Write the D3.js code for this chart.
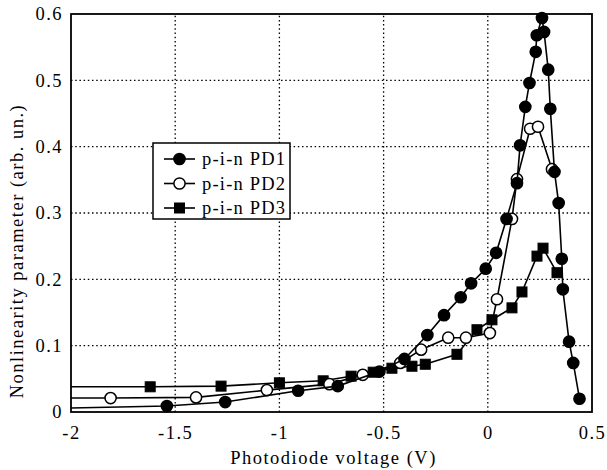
<!DOCTYPE html>
<html>
<head>
<meta charset="utf-8">
<script src="https://cdn.jsdelivr.net/npm/d3@7"></script>
<style>
  html, body { margin: 0; padding: 0; background: #fff; }
  svg text { font-family: "Liberation Serif", "Times New Roman", serif; fill: #000; }
</style>
</head>
<body>
<svg id="chart" width="607" height="470"></svg>
<script>
// Photodiode voltage (V) and nonlinearity parameter for three p-i-n photodiodes.
// The first entry of each series sits on the left frame edge (line only, no marker).
const pd1X = [-2, -1.54, -1.26, -0.91, -0.72, -0.52, -0.40, -0.29, -0.21, -0.13, -0.08, -0.01, 0.04, 0.09, 0.14, 0.155, 0.18, 0.20, 0.23, 0.235, 0.26, 0.27, 0.29, 0.30, 0.32, 0.34, 0.355, 0.36, 0.39, 0.41, 0.44];
const pd1Y = [0.006, 0.009, 0.015, 0.032, 0.039, 0.061, 0.080, 0.116, 0.146, 0.173, 0.194, 0.216, 0.240, 0.291, 0.345, 0.402, 0.460, 0.496, 0.543, 0.568, 0.594, 0.573, 0.516, 0.457, 0.362, 0.315, 0.231, 0.185, 0.106, 0.074, 0.020];

const pd2X = [-2, -1.81, -1.40, -1.06, -0.76, -0.60, -0.42, -0.32, -0.19, -0.105, 0.01, 0.044, 0.116, 0.14, 0.203, 0.241, 0.308];
const pd2Y = [0.021, 0.021, 0.022, 0.033, 0.042, 0.056, 0.074, 0.094, 0.112, 0.112, 0.119, 0.170, 0.291, 0.351, 0.427, 0.430, 0.366];

const pd3X = [-2, -1.62, -1.28, -1.00, -0.79, -0.656, -0.55, -0.46, -0.364, -0.30, -0.148, -0.052, 0.02, 0.116, 0.164, 0.236, 0.265, 0.332];
const pd3Y = [0.038, 0.038, 0.039, 0.044, 0.047, 0.054, 0.060, 0.066, 0.069, 0.072, 0.087, 0.124, 0.139, 0.157, 0.181, 0.235, 0.247, 0.210];

const seriesNames = ["p-i-n PD1", "p-i-n PD2", "p-i-n PD3"];
const xTicks = [-2, -1.5, -1, -0.5, 0, 0.5];
const yTicks = [0, 0.1, 0.2, 0.3, 0.4, 0.5, 0.6];
const xTickLabels = ["-2", "-1.5", "-1", "-0.5", "0", "0.5"];
const yTickLabels = ["0", "0.1", "0.2", "0.3", "0.4", "0.5", "0.6"];
const xTitle = "Photodiode voltage (V)";
const yTitle = "Nonlinearity parameter (arb. un.)";

const svg = d3.select("#chart");
const margin = { left: 71, right: 15, top: 14, bottom: 58 };
const W = 607, H = 470;
const x = d3.scaleLinear().domain([-2, 0.5]).range([margin.left, W - margin.right]);
const y = d3.scaleLinear().domain([0, 0.6]).range([H - margin.bottom, margin.top]);

const fontSize = 18.5;
const spacing = "1.5px";

// dotted grid
const grid = svg.append("g");
grid.selectAll("line.vx").data(xTicks.slice(1, -1)).join("line")
  .attr("x1", d => x(d)).attr("x2", d => x(d))
  .attr("y1", y(0)).attr("y2", y(0.6))
  .attr("stroke", "#000").attr("stroke-width", 1.3).attr("stroke-dasharray", "1.5,2.7");
grid.selectAll("line.hy").data(yTicks.slice(1, -1)).join("line")
  .attr("y1", d => y(d)).attr("y2", d => y(d))
  .attr("x1", x(-2)).attr("x2", x(0.5))
  .attr("stroke", "#000").attr("stroke-width", 1.3).attr("stroke-dasharray", "1.5,2.7");

// tick labels via d3 axes (no tick marks)
const xAxis = d3.axisBottom(x).tickValues(xTicks).tickSize(0).tickPadding(10)
  .tickFormat((d, i) => xTickLabels[i]);
const gx = svg.append("g").attr("transform", `translate(0,${y(0)})`).call(xAxis);
gx.select(".domain").remove();
gx.selectAll("text").attr("font-size", fontSize).attr("letter-spacing", spacing)
  .attr("font-family", "Liberation Serif").attr("fill", "#000").attr("dy", "0.9em");

const yAxis = d3.axisLeft(y).tickValues(yTicks).tickSize(0).tickPadding(8)
  .tickFormat((d, i) => yTickLabels[i]);
const gy = svg.append("g").attr("transform", `translate(${x(-2)},0)`).call(yAxis);
gy.select(".domain").remove();
gy.selectAll("text").attr("font-size", fontSize).attr("letter-spacing", spacing)
  .attr("font-family", "Liberation Serif").attr("fill", "#000");

// axis titles
svg.append("text").attr("x", (x(-2) + x(0.5)) / 2 + 2).attr("y", 464)
  .attr("text-anchor", "middle").attr("font-size", fontSize).attr("letter-spacing", spacing)
  .text(xTitle);
svg.append("text")
  .attr("transform", `translate(23,${(y(0) + y(0.6)) / 2 + 38}) rotate(-90)`)
  .attr("text-anchor", "middle").attr("font-size", fontSize).attr("letter-spacing", spacing)
  .text(yTitle);

// series
const series = [
  { name: seriesNames[0], xs: pd1X, ys: pd1Y, shape: "circle", fill: "#000" },
  { name: seriesNames[1], xs: pd2X, ys: pd2Y, shape: "circle", fill: "#fff" },
  { name: seriesNames[2], xs: pd3X, ys: pd3Y, shape: "square", fill: "#000" }
];
const line = d3.line().x(d => x(d[0])).y(d => y(d[1]));
const plot = svg.append("g");

function drawMarker(g, shape, fill) {
  if (shape === "circle") {
    g.append("circle").attr("r", 5.6).attr("fill", fill).attr("stroke", "#000").attr("stroke-width", 1.5);
  } else {
    g.append("rect").attr("x", -5).attr("y", -5).attr("width", 10).attr("height", 10)
      .attr("fill", fill).attr("stroke", "#000").attr("stroke-width", 1);
  }
}

// draw PD3 first, then PD2, then PD1 on top
[series[2], series[1], series[0]].forEach(s => {
  const pts = s.xs.map((v, i) => [v, s.ys[i]]);
  plot.append("path").datum(pts).attr("d", line)
    .attr("fill", "none").attr("stroke", "#000").attr("stroke-width", 1.6);
  pts.filter(p => p[0] > -2).forEach(p => {
    const g = plot.append("g").attr("transform", `translate(${x(p[0])},${y(p[1])})`);
    drawMarker(g, s.shape, s.fill);
  });
});

// frame
svg.append("rect").attr("x", x(-2)).attr("y", y(0.6))
  .attr("width", x(0.5) - x(-2)).attr("height", y(0) - y(0.6))
  .attr("fill", "none").attr("stroke", "#000").attr("stroke-width", 1.8);

// legend
const leg = svg.append("g");
leg.append("rect").attr("x", 153).attr("y", 143).attr("width", 137).attr("height", 76)
  .attr("fill", "#fff").attr("stroke", "#000").attr("stroke-width", 1.5);
series.forEach((s, i) => {
  const cy = 159 + i * 24.5;
  leg.append("line").attr("x1", 164).attr("x2", 195).attr("y1", cy).attr("y2", cy)
    .attr("stroke", "#000").attr("stroke-width", 1.6);
  const g = leg.append("g").attr("transform", `translate(179.5,${cy})`);
  drawMarker(g, s.shape, s.fill);
  leg.append("text").attr("x", 202).attr("y", cy + 6).attr("font-size", fontSize)
    .attr("letter-spacing", "1.2px").text(s.name);
});
</script>
</body>
</html>
